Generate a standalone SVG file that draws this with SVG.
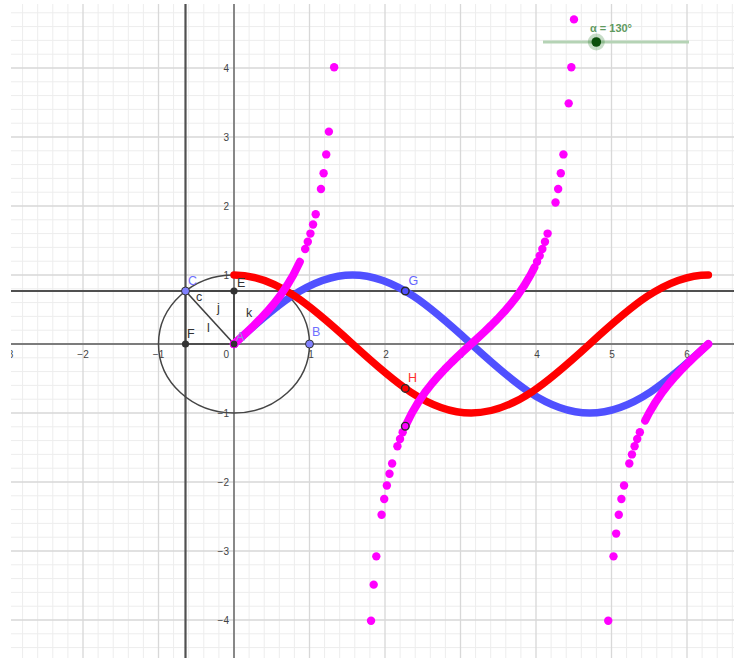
<svg xmlns="http://www.w3.org/2000/svg" width="734" height="658" viewBox="0 0 734 658">
<defs>
<clipPath id="view"><rect x="11" y="4" width="723" height="654"/></clipPath>
<style>
.minor{stroke:#ededed;stroke-width:1;fill:none}
.major{stroke:#d8d8d8;stroke-width:1.3;fill:none}
.axis{stroke:#7c7c7c;stroke-width:1.8;fill:none}
.aux{stroke:#505050;stroke-width:2.2;fill:none}
.seg{stroke:#404040;stroke-width:1.6;fill:none}
.num{font-family:"Liberation Sans","DejaVu Sans",sans-serif;font-size:10px;fill:#444}
.lbl{font-family:"Liberation Sans","DejaVu Sans",sans-serif;font-size:12.5px}
.dark{fill:#333}
.blue{fill:#6f6fff}
.curve{fill:none;stroke-linecap:round;stroke-linejoin:round}
.mag{fill:#ff00ff}
.magline{fill:none;stroke:#ff00ff;stroke-width:8;stroke-linecap:round;stroke-linejoin:round}
.ring{fill:none;stroke:#2a2a2a;stroke-width:1.4}
</style>
</defs>
<rect width="734" height="658" fill="#ffffff"/>
<g clip-path="url(#view)">
<g id="grid">
<path class="minor" d="M22.6 4V658M37.7 4V658M52.8 4V658M67.9 4V658M98.1 4V658M113.2 4V658M128.3 4V658M143.4 4V658M173.6 4V658M188.7 4V658M203.8 4V658M218.9 4V658M249.1 4V658M264.2 4V658M279.3 4V658M294.4 4V658M324.6 4V658M339.7 4V658M354.8 4V658M369.9 4V658M400.1 4V658M415.2 4V658M430.3 4V658M445.4 4V658M475.6 4V658M490.7 4V658M505.8 4V658M520.9 4V658M551.1 4V658M566.2 4V658M581.3 4V658M596.4 4V658M626.6 4V658M641.7 4V658M656.8 4V658M671.9 4V658M702.1 4V658M717.2 4V658M732.3 4V658"/>
<path class="minor" d="M11 12.8H734M11 26.6H734M11 40.4H734M11 54.2H734M11 81.8H734M11 95.6H734M11 109.4H734M11 123.2H734M11 150.8H734M11 164.6H734M11 178.4H734M11 192.2H734M11 219.8H734M11 233.6H734M11 247.4H734M11 261.2H734M11 288.8H734M11 302.6H734M11 316.4H734M11 330.2H734M11 357.8H734M11 371.6H734M11 385.4H734M11 399.2H734M11 426.8H734M11 440.6H734M11 454.4H734M11 468.2H734M11 495.8H734M11 509.6H734M11 523.4H734M11 537.2H734M11 564.8H734M11 578.6H734M11 592.4H734M11 606.2H734M11 633.8H734M11 647.6H734"/>
<path class="major" d="M83 4V658M158.5 4V658M309.5 4V658M385 4V658M460.5 4V658M536 4V658M611.5 4V658M687 4V658M11 68H734M11 137H734M11 206H734M11 275H734M11 413H734M11 482H734M11 551H734M11 620H734"/>
</g>
<g id="axes">
<path class="axis" d="M11 344H734M234 4V658"/>
<text class="num" x="7.5" y="358" text-anchor="middle">−3</text>
<text class="num" x="83" y="358" text-anchor="middle">−2</text>
<text class="num" x="158.5" y="358" text-anchor="middle">−1</text>
<text class="num" x="229" y="358" text-anchor="end">0</text>
<text class="num" x="311" y="358" text-anchor="middle">1</text>
<text class="num" x="386" y="358" text-anchor="middle">2</text>
<text class="num" x="461" y="358" text-anchor="middle">3</text>
<text class="num" x="537" y="358" text-anchor="middle">4</text>
<text class="num" x="612" y="358" text-anchor="middle">5</text>
<text class="num" x="687" y="358" text-anchor="middle">6</text>
<text class="num" x="229" y="71.5" text-anchor="end">4</text>
<text class="num" x="229" y="140.5" text-anchor="end">3</text>
<text class="num" x="229" y="209.5" text-anchor="end">2</text>
<text class="num" x="229" y="278.5" text-anchor="end">1</text>
<text class="num" x="229" y="416.5" text-anchor="end">−1</text>
<text class="num" x="229" y="485.5" text-anchor="end">−2</text>
<text class="num" x="229" y="554.5" text-anchor="end">−3</text>
<text class="num" x="229" y="623.5" text-anchor="end">−4</text>
</g>
<g id="auxLines">
<path class="aux" d="M11 291H734M185.5 4V658"/>
</g>
<g id="unitCircle">
<ellipse cx="234" cy="344" rx="75.5" ry="69" fill="none" stroke="#454545" stroke-width="1.5"/>
</g>
<g id="connectors">
<path class="seg" d="M185.5 291L234 344"/>
<path class="seg" d="M185.5 291H234"/>
<path class="seg" d="M234 291V344"/>
<path class="seg" d="M185.5 344H234"/>
<path class="seg" d="M185.5 291V344"/>
</g>
<g id="segmentLabels" class="lbl dark">
<text x="196" y="301">c</text>
<text x="217" y="312">j</text>
<text x="207" y="332">l</text>
<text x="246" y="317">k</text>
</g>
<g id="sinCurve">
<path class="curve" stroke="#5050ff" stroke-width="7.5" d="M234,344 C272.68,308.65 309.67,275 352.60,275 C395.52,275 432.51,308.65 471.19,344 C509.87,379.35 546.86,413 589.79,413 C632.71,413 669.70,379.35 708.38,344"/>
</g>
<g id="cosCurve">
<path class="curve" stroke="#ff0000" stroke-width="7.5" d="M234,275 C276.92,275 313.92,308.65 352.60,344 C391.27,379.35 428.27,413 471.19,413 C514.11,413 551.11,379.35 589.79,344 C628.46,308.65 665.46,275 708.38,275"/>
</g>
<g id="tanTrace">
<path class="magline" d="M234,344 L240.59,337.96 L247.18,331.84 L253.77,325.51 L260.35,318.88 L266.94,311.83 L273.53,304.16 L280.12,295.69 L286.71,286.10 L293.30,275 L299.89,261.77"/>
<path class="magline" d="M405.30,426.23 L411.89,413 L418.48,401.90 L425.07,392.31 L431.66,383.84 L438.25,376.18 L444.84,369.11 L451.42,362.49 L458.01,356.17 L464.60,350.04 L471.19,344 L477.78,337.96 L484.37,331.83 L490.96,325.51 L497.55,318.89 L504.13,311.82 L510.72,304.16 L517.31,295.69 L523.90,286.10 L530.49,275 L534.44,267.37"/>
<path class="magline" d="M645.13,420.63 L649.08,413 L655.67,401.90 L662.26,392.31 L668.85,383.84 L675.44,376.18 L682.03,369.11 L688.61,362.49 L695.20,356.17 L701.79,350.04 L708.38,344"/>
<g class="mag">
<circle cx="305.16" cy="249.03" r="4.2"/><circle cx="307.79" cy="241.70" r="4.2"/><circle cx="310.43" cy="233.58" r="4.2"/><circle cx="313.06" cy="224.49" r="4.2"/><circle cx="315.70" cy="214.23" r="4.2"/><circle cx="320.97" cy="189.02" r="4.2"/><circle cx="323.61" cy="173.22" r="4.2"/><circle cx="326.24" cy="154.42" r="4.2"/><circle cx="328.88" cy="131.64" r="4.2"/><circle cx="334.15" cy="67.26" r="4.2"/>
<circle cx="371.04" cy="620.74" r="4.2"/><circle cx="373.68" cy="584.63" r="4.2"/><circle cx="376.31" cy="556.36" r="4.2"/><circle cx="381.59" cy="514.78" r="4.2"/><circle cx="384.22" cy="498.98" r="4.2"/><circle cx="386.86" cy="485.47" r="4.2"/><circle cx="389.49" cy="473.77" r="4.2"/><circle cx="392.13" cy="463.51" r="4.2"/><circle cx="397.40" cy="446.30" r="4.2"/><circle cx="400.03" cy="438.97" r="4.2"/><circle cx="402.67" cy="432.32" r="4.2"/>
<circle cx="537.08" cy="261.77" r="4.2"/><circle cx="539.71" cy="255.68" r="4.2"/><circle cx="542.35" cy="249.03" r="4.2"/><circle cx="544.98" cy="241.70" r="4.2"/><circle cx="547.62" cy="233.58" r="4.2"/><circle cx="555.52" cy="202.53" r="4.2"/><circle cx="558.16" cy="189.02" r="4.2"/><circle cx="560.80" cy="173.22" r="4.2"/><circle cx="563.43" cy="154.42" r="4.2"/><circle cx="568.70" cy="103.37" r="4.2"/><circle cx="571.34" cy="67.26" r="4.2"/><circle cx="573.97" cy="19.38" r="4.2"/>
<circle cx="608.23" cy="620.74" r="4.2"/><circle cx="613.50" cy="556.36" r="4.2"/><circle cx="616.14" cy="533.58" r="4.2"/><circle cx="618.78" cy="514.78" r="4.2"/><circle cx="621.41" cy="498.98" r="4.2"/><circle cx="624.05" cy="485.47" r="4.2"/><circle cx="629.32" cy="463.51" r="4.2"/><circle cx="631.95" cy="454.42" r="4.2"/><circle cx="634.59" cy="446.30" r="4.2"/><circle cx="637.22" cy="438.97" r="4.2"/><circle cx="639.86" cy="432.32" r="4.2"/>
</g>
</g>
<g id="pointA"><circle cx="234" cy="344" r="4" fill="#333" stroke="#ff00ff" stroke-width="1"/><text class="lbl" x="236" y="341" fill="#9090dd">A</text></g>
<g id="pointB"><circle cx="309.5" cy="344" r="4" fill="#8080ff" stroke="#333" stroke-width="1"/><text class="lbl" x="312" y="336" fill="#7070ff">B</text></g>
<g id="pointC"><circle cx="185.5" cy="291" r="4" fill="#8080ff" stroke="#333" stroke-width="1"/><text class="lbl" x="188" y="285" fill="#7070ff">C</text></g>
<g id="pointE"><circle cx="234" cy="291" r="3.6" fill="#333"/><text class="lbl dark" x="237" y="287">E</text></g>
<g id="pointF"><circle cx="185.5" cy="344" r="3.6" fill="#333"/><text class="lbl dark" x="187" y="338">F</text></g>
<g id="pointG"><circle class="ring" cx="405.3" cy="291" r="3.8"/><text class="lbl" x="408.5" y="285" fill="#6666ff">G</text></g>
<g id="pointH"><circle class="ring" cx="405.3" cy="388.4" r="3.8"/><text class="lbl" x="408" y="382" fill="#ff3030">H</text></g>
<g id="pointI"><circle class="ring" cx="405.3" cy="426.2" r="3.8"/></g>
<g id="slider">
<line x1="543" y1="42" x2="689" y2="42" stroke="#b5d3b5" stroke-width="3"/>
<circle cx="596.3" cy="42" r="8.5" fill="#006400" fill-opacity="0.22"/>
<circle cx="596.3" cy="42" r="4.8" fill="#0b4f0b"/>
<text x="611" y="31.5" text-anchor="middle" font-family="Liberation Sans, DejaVu Sans, sans-serif" font-size="11px" font-weight="bold" fill="#5f9a5f">α = 130°</text>
</g>
</g>
</svg>
